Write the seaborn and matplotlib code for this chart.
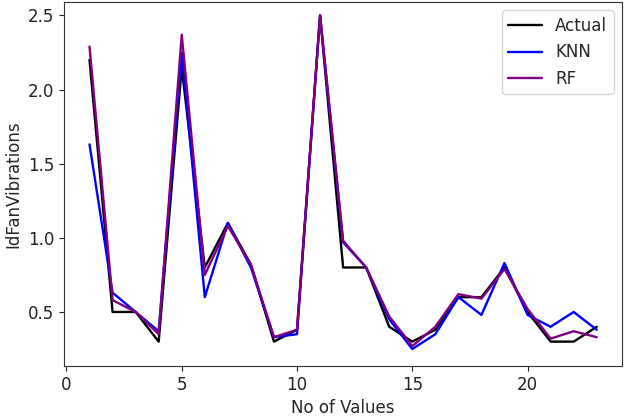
import numpy as np
import pandas as pd
import seaborn as sns
import matplotlib.pyplot as plt

# values
idx = list(range(1, 24))
actual = [2.2, 0.5, 0.5, 0.3, 2.15, 0.8, 1.1, 0.82, 0.3, 0.38, 2.5, 0.8,
          0.8, 0.4, 0.3, 0.38, 0.6, 0.6, 0.8, 0.5, 0.3, 0.3, 0.4]
knn = [1.63, 0.63, 0.5, 0.37, 2.25, 0.6, 1.1, 0.8, 0.33, 0.35, 2.5, 0.97,
       0.8, 0.45, 0.25, 0.35, 0.6, 0.48, 0.83, 0.48, 0.4, 0.5, 0.38]
rf = [2.29, 0.58, 0.5, 0.35, 2.37, 0.75, 1.08, 0.82, 0.33, 0.38, 2.5, 0.98,
      0.8, 0.47, 0.27, 0.4, 0.62, 0.59, 0.79, 0.52, 0.32, 0.37, 0.33]

df = pd.DataFrame({'x': idx * 3,
                   'y': actual + knn + rf,
                   'model': ['Actual'] * 23 + ['KNN'] * 23 + ['RF'] * 23})

sns.set_style('ticks')
plt.rcParams['font.family'] = ['DejaVu Sans']

fig = plt.figure(figsize=(6.29, 4.16), dpi=100)
ax = fig.add_axes([0.102, 0.12, 0.887, 0.875])
sns.lineplot(data=df, x='x', y='y', hue='model',
             palette={'Actual': 'black', 'KNN': 'blue', 'RF': 'purple'},
             linewidth=1.7, ax=ax)

ax.set_xlim(-0.1, 24.1)
ax.set_ylim(0.135, 2.59)
ax.set_xticks([0, 5, 10, 15, 20])
ax.set_yticks([0.5, 1.0, 1.5, 2.0, 2.5])
ax.tick_params(labelsize=12, colors='#222222')
for s in ax.spines.values():
    s.set_color('#333333')
ax.set_xlabel('No of Values', fontsize=12)
ax.set_ylabel('IdFanVibrations', fontsize=12)
ax.legend(loc='upper right', fontsize=12, title=None)

fig.savefig('out.png', dpi=100)
